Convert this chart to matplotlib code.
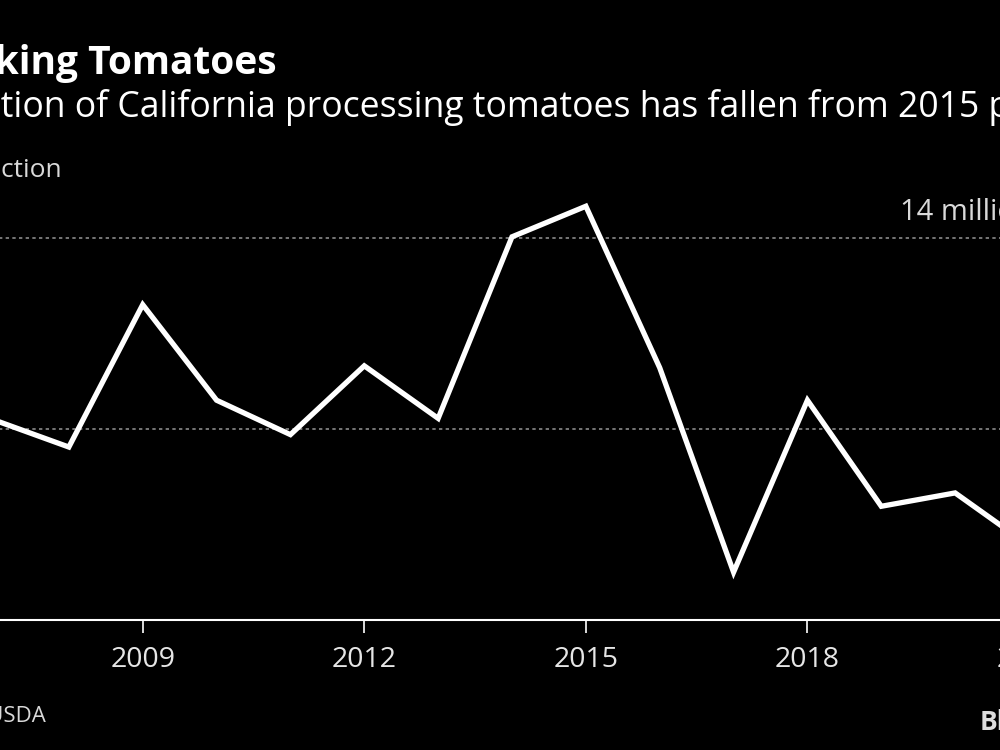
import matplotlib.pyplot as plt

# California processing tomato production, million tons
years = list(range(2007, 2022))
production = [12.09, 11.81, 13.30, 12.30, 11.94, 12.66, 12.11, 14.01,
              14.33, 12.64, 10.50, 12.30, 11.19, 11.33, 10.78]
tick_years = [2009, 2012, 2015, 2018, 2021]
grid_values = [12, 14]
# the "12" label sits past the right edge of the crop, only the top one shows
top_label = '14 million'

W, H = 1000, 750
plt.rcParams['font.family'] = ['Open Sans', 'DejaVu Sans']

fig = plt.figure(figsize=(10, 7.5), dpi=100, facecolor='black')
renderer = fig.canvas.get_renderer()


def cut_text(full, hidden, x_px, base_px, **kw):
    # the chart is cropped: place the full text so the part after `hidden` starts at x_px
    probe = fig.text(0, 0, hidden, **kw)
    w = probe.get_window_extent(renderer).width
    probe.remove()
    return fig.text((x_px - w) / W, 1 - base_px / H, full, va='baseline', **kw)


# axes run a bit past both edges of the picture
ax = fig.add_axes([-5 / W, 1 - 620 / H, 1034 / W, 430 / H])
ax.set_facecolor('black')
ax.plot(years, production, color='white', lw=3.8, solid_joinstyle='miter')
ax.set_xlim(2007, 2021)
ax.set_ylim(10, 14.5)

for v in grid_values:
    ax.axhline(v, color='#8a8a8a', lw=1.2, ls=(0, (2, 2)), zorder=0)
ax.annotate(top_label, (1.0, max(grid_values)), xycoords=ax.get_yaxis_transform(),
            xytext=(3, 13), textcoords='offset points',
            ha='right', va='baseline', color='#d9d9d9', fontsize=21)

for s in ['top', 'right', 'left']:
    ax.spines[s].set_visible(False)
ax.spines['bottom'].set_color('white')
ax.spines['bottom'].set_linewidth(1.5)
ax.set_yticks([])
ax.set_xticks(tick_years)
ax.set_xticklabels([str(y) for y in tick_years])
ax.tick_params(axis='x', colors='white', labelcolor='#e6e6e6', length=9,
               width=1.2, pad=10, labelsize=20.5)

# title: right end of "Tomatoes" sits at x=277 px
fig.text(277 / W, 1 - 74 / H, 'Shrinking Tomatoes', color='white', fontsize=28,
         fontweight='bold', ha='right', va='baseline')
cut_text('Production of California processing tomatoes has fallen from 2015 peak',
         'Produc', 1, 117, color='white', fontsize=25.6)
cut_text('Production', 'Produ', 1, 177, color='#d9d9d9', fontsize=19)
fig.text(46 / W, 1 - 722 / H, 'Source: USDA', color='#d9d9d9', fontsize=16,
         ha='right', va='baseline')
fig.text(980 / W, 1 - 730 / H, 'Bloomberg', color='#dddddd', fontsize=19,
         fontweight='bold', va='baseline')

fig.savefig('out.png', dpi=100, facecolor='black')
